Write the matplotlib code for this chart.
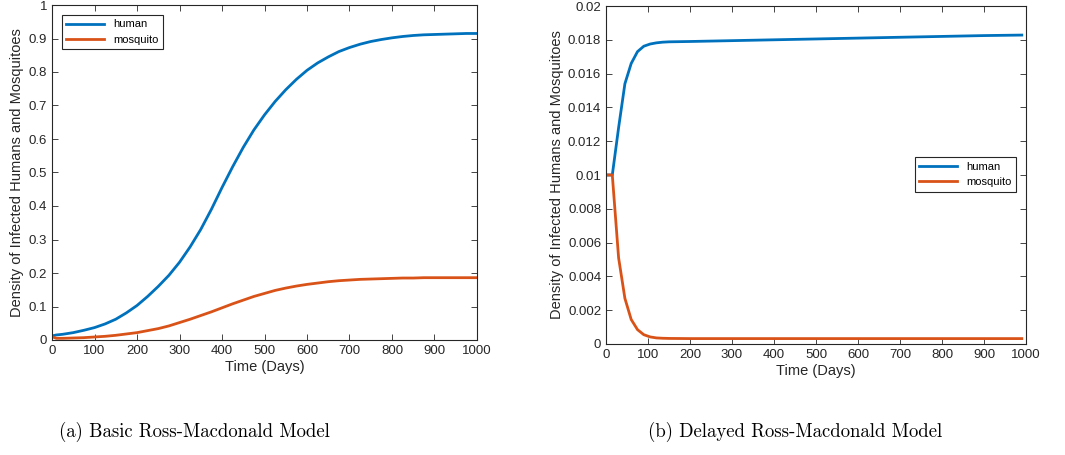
import numpy as np
import matplotlib.pyplot as plt
from matplotlib.ticker import FuncFormatter, MultipleLocator

# (a) basic model
t_basic = [0, 10, 25, 50, 75, 100, 125, 150, 175, 200, 225, 250, 275, 300, 325, 350, 375,
           400, 425, 450, 475, 500, 525, 550, 575, 600, 625, 650, 675, 700, 725, 750,
           775, 800, 825, 850, 875, 900, 925, 950, 975, 1000]
human_basic = [0.012, 0.015, 0.017, 0.022, 0.029, 0.037, 0.048, 0.062, 0.081, 0.103, 0.130,
               0.160, 0.193, 0.232, 0.278, 0.330, 0.390, 0.455, 0.517, 0.575, 0.627, 0.672,
               0.712, 0.747, 0.778, 0.805, 0.827, 0.845, 0.861, 0.873, 0.883, 0.891, 0.897,
               0.902, 0.906, 0.909, 0.911, 0.912, 0.913, 0.914, 0.915, 0.915]
mosq_basic = [0.010, 0.005, 0.005, 0.006, 0.007, 0.009, 0.011, 0.014, 0.018, 0.022, 0.028,
              0.034, 0.042, 0.052, 0.062, 0.073, 0.084, 0.096, 0.108, 0.119, 0.130, 0.139,
              0.148, 0.155, 0.161, 0.166, 0.170, 0.174, 0.177, 0.179, 0.181, 0.182, 0.183,
              0.184, 0.185, 0.185, 0.186, 0.186, 0.186, 0.186, 0.186, 0.186]

# (b) delayed model
t_delay = [0, 15, 30, 45, 60, 75, 90, 105, 120, 135, 150, 200, 300, 400, 500,
           600, 700, 800, 900, 990]
human_delay = [0.01, 0.01, 0.0128, 0.0154, 0.0166, 0.0173, 0.01762, 0.01775, 0.01782, 0.01786,
               0.01788, 0.0179, 0.01795, 0.018, 0.01805, 0.0181, 0.01815, 0.0182, 0.01825, 0.01828]
mosq_delay = [0.01, 0.01, 0.0051, 0.0027, 0.00145, 0.00085, 0.00055, 0.00042, 0.00036, 0.00034,
              0.00033, 0.00032, 0.00032, 0.00032, 0.00032, 0.00032, 0.00032, 0.00032, 0.00032, 0.00032]

blue = '#0072BD'
orange = '#D95319'
dark = '#262626'

plt.rcParams['font.family'] = 'Liberation Sans'

fig = plt.figure(figsize=(10.65, 4.55), dpi=100)
ax1 = fig.add_axes([52/1065, 115/455, 425/1065, 335/455])
ax2 = fig.add_axes([606/1065, 111/455, 420/1065, 338/455])

fmt = FuncFormatter(lambda v, p: '%g' % round(v, 6))

def style(ax):
    ax.set_xlim(0, 1000)
    ax.xaxis.set_major_locator(MultipleLocator(100))
    ax.tick_params(direction='in', top=True, right=True, labelsize=9.5,
                   colors=dark, length=4, width=0.6)
    for s in ax.spines.values():
        s.set_color(dark)
        s.set_linewidth(0.8)
    ax.yaxis.set_major_formatter(fmt)
    ax.set_xlabel('Time (Days)', fontsize=10.5, color=dark, labelpad=2)
    ax.set_ylabel('Density of Infected Humans and Mosquitoes', fontsize=10.5, color=dark, labelpad=3)

ax1.plot(t_basic, human_basic, color=blue, lw=2, label='human')
ax1.plot(t_basic, mosq_basic, color=orange, lw=2, label='mosquito')
ax1.set_ylim(0, 1)
ax1.yaxis.set_major_locator(MultipleLocator(0.1))
style(ax1)
leg = ax1.legend(loc='upper left', bbox_to_anchor=(0.0235, 0.970), fontsize=8,
                 handlelength=3.4, fancybox=False, borderaxespad=0, framealpha=1)
leg.get_frame().set_edgecolor(dark)
leg.get_frame().set_linewidth(0.8)

ax2.plot(t_delay, human_delay, color=blue, lw=2, label='human')
ax2.plot(t_delay, mosq_delay, color=orange, lw=2, label='mosquito')
ax2.set_ylim(0, 0.02)
ax2.yaxis.set_major_locator(MultipleLocator(0.002))
style(ax2)
leg = ax2.legend(loc='upper right', bbox_to_anchor=(0.976, 0.553), fontsize=8,
                 handlelength=3.4, fancybox=False, borderaxespad=0, framealpha=1)
leg.get_frame().set_edgecolor(dark)
leg.get_frame().set_linewidth(0.8)

fig.text(194/1065, 1 - 432/455, '(a) Basic Ross-Macdonald Model', family='cmr10',
         fontsize=13.5, ha='center', va='center')
fig.text(795/1065, 1 - 432/455, '(b) Delayed Ross-Macdonald Model', family='cmr10',
         fontsize=13.5, ha='center', va='center')

fig.savefig('out.png', dpi=100)
